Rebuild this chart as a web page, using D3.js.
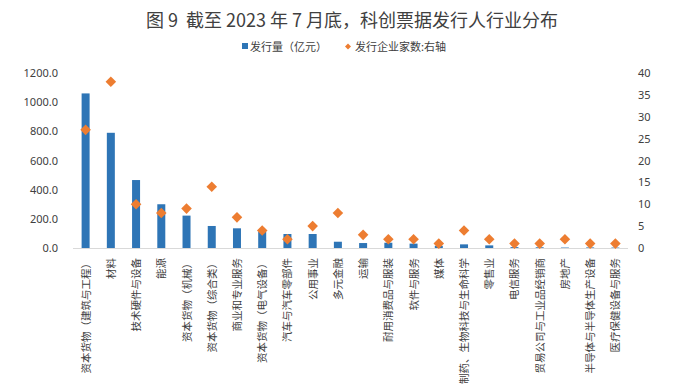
<!DOCTYPE html>
<html>
<head>
<meta charset="utf-8">
<script src="https://cdn.jsdelivr.net/npm/d3@7"></script>
<style>
  body { margin: 0; background: #fff; }
  text { font-family: "Noto Sans CJK SC", "Noto Sans", sans-serif; }
</style>
</head>
<body>
<div id="chart"></div>
<script>
// 行业分类
var industries = ['资本货物（建筑与工程）', '材料', '技术硬件与设备', '能源', '资本货物（机械）',
  '资本货物（综合类）', '商业和专业服务', '资本货物（电气设备）', '汽车与汽车零部件', '公用事业',
  '多元金融', '运输', '耐用消费品与服装', '软件与服务', '媒体', '制药、生物科技与生命科学',
  '零售业', '电信服务', '贸易公司与工业品经销商', '房地产', '半导体与半导体生产设备', '医疗保健设备与服务'];
// 发行量（亿元）
var amounts = [1060, 790, 466, 300, 222, 151, 135, 112, 96, 96, 43, 34, 36, 30, 15, 25, 18, 6, 5, 3, 4, 3];
// 发行企业家数
var counts = [27, 38, 10, 8, 9, 14, 7, 4, 2, 5, 8, 3, 2, 2, 1, 4, 2, 1, 1, 2, 1, 1];
var leftTicks = [0, 200, 400, 600, 800, 1000, 1200];
var rightTicks = [0, 5, 10, 15, 20, 25, 30, 35, 40];

var width = 700, height = 387;
var margin = {top: 73, left: 73, right: 72, bottom: 139};

var svg = d3.select('#chart').append('svg')
  .attr('width', width)
  .attr('height', height);

var x = d3.scaleBand()
  .domain(industries)
  .range([margin.left, width - margin.right]);

var yLeft = d3.scaleLinear()
  .domain([0, 1200])
  .range([height - margin.bottom, margin.top]);

var yRight = d3.scaleLinear()
  .domain([0, 40])
  .range([height - margin.bottom, margin.top]);

// 标题
svg.append('text')
  .attr('x', 352).attr('y', 27)
  .attr('text-anchor', 'middle')
  .attr('font-size', 18)
  .attr('fill', '#404040')
  .style('white-space', 'pre')
  .text('图 9  截至 2023 年 7 月底，科创票据发行人行业分布');

// 图例
var legend = svg.append('g').attr('font-size', 11).attr('fill', '#404040');
legend.append('rect').attr('x', 242).attr('y', 43).attr('width', 6).attr('height', 6).attr('fill', '#2E75B6');
legend.append('text').attr('x', 250).attr('y', 51).text('发行量（亿元）');
legend.append('path')
  .attr('d', d3.symbol(d3.symbolSquare, 18)())
  .attr('transform', 'translate(348,46.5) rotate(45)')
  .attr('fill', '#ED7D31');
legend.append('text').attr('x', 355).attr('y', 51).text('发行企业家数:右轴');

// 柱子
var barW = 8;
svg.append('g').selectAll('rect')
  .data(amounts)
  .enter()
  .append('rect')
  .attr('x', (d, i) => x(industries[i]) + x.bandwidth() / 2 - barW / 2)
  .attr('y', (d) => yLeft(d))
  .attr('width', barW)
  .attr('height', (d) => yLeft(0) - yLeft(d))
  .attr('fill', '#2E75B6');

// 横轴线
svg.append('line')
  .attr('x1', margin.left).attr('x2', width - margin.right)
  .attr('y1', yLeft(0) + 0.5).attr('y2', yLeft(0) + 0.5)
  .attr('stroke', '#D9D9D9');

// 菱形点
svg.append('g').selectAll('path')
  .data(counts)
  .enter()
  .append('path')
  .attr('d', d3.symbol(d3.symbolSquare, 56)())
  .attr('transform', (d, i) => 'translate(' + (x(industries[i]) + x.bandwidth() / 2) + ',' + yRight(d) + ') rotate(45)')
  .attr('fill', '#ED7D31');

// 左轴
var axisL = svg.append('g')
  .attr('transform', 'translate(' + (margin.left - 10) + ',0)')
  .call(d3.axisLeft(yLeft).tickValues(leftTicks).tickFormat(d3.format('.1f')).tickSize(0).tickPadding(5));
axisL.select('.domain').remove();
axisL.selectAll('text').attr('font-size', 11).attr('fill', '#404040').style('font-family', '"Noto Sans", sans-serif');

// 右轴
var axisR = svg.append('g')
  .attr('transform', 'translate(' + (width - margin.right + 5) + ',0)')
  .call(d3.axisRight(yRight).tickValues(rightTicks).tickSize(0).tickPadding(5));
axisR.select('.domain').remove();
axisR.selectAll('text').attr('font-size', 11).attr('fill', '#404040').style('font-family', '"Noto Sans", sans-serif');

// 横轴标签（竖排）
svg.append('g').selectAll('text')
  .data(industries)
  .enter()
  .append('text')
  .attr('transform', (d) => 'translate(' + (x(d) + x.bandwidth() / 2 + 4) + ',' + (yLeft(0) + 10) + ') rotate(-90)')
  .attr('text-anchor', 'end')
  .attr('font-size', 10.5)
  .attr('fill', '#404040')
  .text((d) => d);
</script>
</body>
</html>
